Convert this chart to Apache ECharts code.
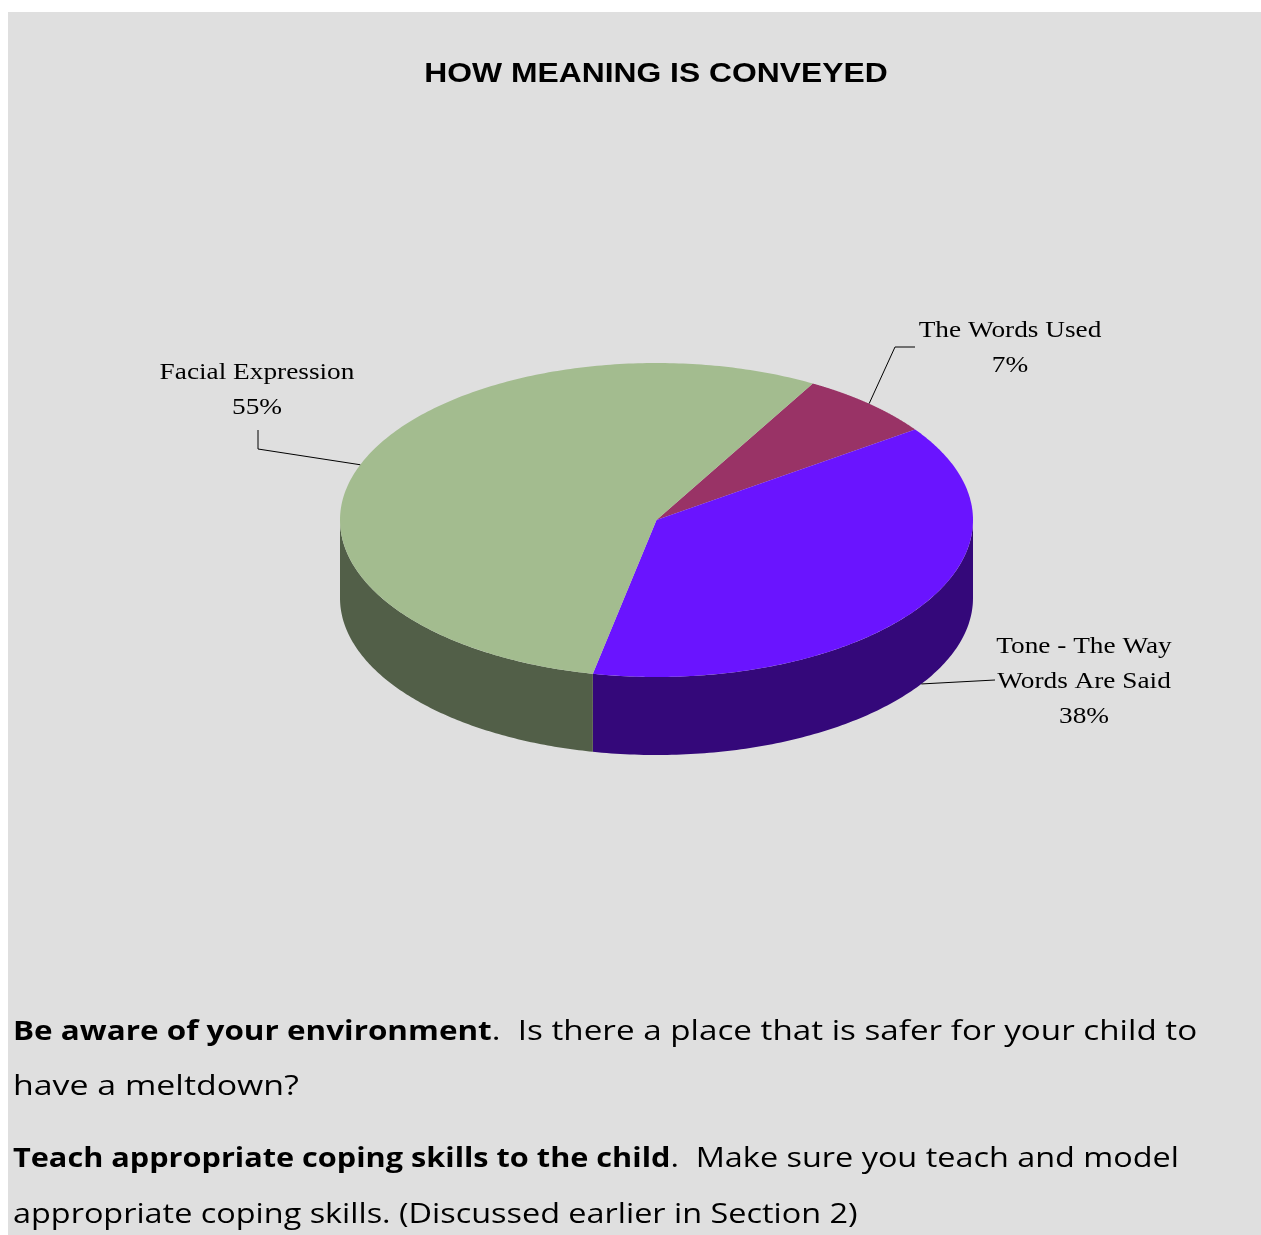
<!DOCTYPE html>
<html><head><meta charset="utf-8">
<script src="https://cdn.jsdelivr.net/npm/echarts@6/dist/echarts.min.js"></script>
<style>html,body{margin:0;padding:0;background:#fff}#c{width:1261px;height:1235px}</style>
</head><body><div id="c"></div>
<script>
// ---- data ----
const categories = ['The Words Used', 'Tone - The Way\nWords Are Said', 'Facial Expression'];
const values = [7, 38, 55];
const titleText = 'HOW MEANING IS CONVEYED';
const para1Bold = 'Be aware of your environment';
const para1Rest = '.  Is there a place that is safer for your child to';
const para1Line2 = 'have a meltdown?';
const para2Bold = 'Teach appropriate coping skills to the child';
const para2Rest = '.  Make sure you teach and model';
const para2Line2 = 'appropriate coping skills. (Discussed earlier in Section 2)';

// ---- styles / layout ----
const style = {
  top: ['#993366', '#6a14ff', '#a3bc8f'],
  side: ['#4c1933', '#34087a', '#525f48'],
  bg: '#dfdfdf'
};
const geo = { cx: 656.5, cy: 520, rx: 316.5, ry: 157, depth: 78, startDeg: -60.4 };
const labelScaleX = 1.137;
const labelLayout = [
  { x: 1010, y: 313, path: [[895, 347], [915, 347]] },
  { x: 1084, y: 629, path: [[995, 680]] },
  { x: 257, y: 355, path: [[258, 449], [258, 430]] }
];

const total = values.reduce((a, b) => a + b, 0);
function sliceAngles(i) {
  let a = geo.startDeg * Math.PI / 180;
  for (let k = 0; k < i; k++) a += values[k] / total * Math.PI * 2;
  return [a, a + values[i] / total * Math.PI * 2];
}
function pt(t, dy) { return [geo.cx + geo.rx * Math.cos(t), geo.cy + geo.ry * Math.sin(t) + (dy || 0)]; }

function renderSide(params, api) {
  const i = params.dataIndex;
  const [a0, a1] = sliceAngles(i);
  const groups = [];
  for (const off of [-2 * Math.PI, 0, 2 * Math.PI]) {
    const lo = Math.max(a0 + off, 0), hi = Math.min(a1 + off, Math.PI);
    if (hi > lo) {
      const pts = [];
      const n = 120;
      for (let s = 0; s <= n; s++) pts.push(pt(lo + (hi - lo) * s / n, 0));
      for (let s = n; s >= 0; s--) pts.push(pt(lo + (hi - lo) * s / n, geo.depth));
      groups.push({ type: 'polygon', shape: { points: pts }, style: { fill: style.side[i] } });
    }
  }
  return { type: 'group', children: groups };
}

function renderTop(params, api) {
  const i = params.dataIndex;
  const [a0, a1] = sliceAngles(i);
  const pts = [[geo.cx, geo.cy]];
  const n = 240;
  for (let s = 0; s <= n; s++) pts.push(pt(a0 + (a1 - a0) * s / n, 0));
  const mid = (a0 + a1) / 2;
  const start = pt(mid, Math.sin(mid) > 0 ? geo.depth : 0);
  const L = labelLayout[i];
  const pct = Math.round(values[i] / total * 100) + '%';
  return {
    type: 'group',
    children: [
      { type: 'polygon', shape: { points: pts }, style: { fill: style.top[i] } },
      { type: 'polyline', shape: { points: [start].concat(L.path) }, style: { stroke: '#000', lineWidth: 1, fill: null } },
      { type: 'text', x: L.x, y: L.y, scaleX: labelScaleX,
        style: { text: categories[i] + '\n' + pct, x: 0, y: 0, align: 'center', verticalAlign: 'top',
        font: '24px "Liberation Serif", "Times New Roman", serif', lineHeight: 35, fill: '#000' } }
    ]
  };
}

const bodyFont = '"Comic Sans MS", "Open Sans", sans-serif';
const richStyles = {
  b: { fontFamily: bodyFont, fontWeight: 'bold', fontSize: 26.5, fill: '#000' },
  n: { fontFamily: bodyFont, fontSize: 28, fill: '#000' }
};
function bodyLine(y, text, sx) {
  return { type: 'text', x: 13, y: y, scaleX: sx,
    style: { text: text, x: 0, y: 0, verticalAlign: 'middle', rich: richStyles } };
}
const chart = echarts.init(document.getElementById('c'), null, { renderer: 'canvas' });
chart.setOption({
  backgroundColor: '#ffffff',
  animation: false,
  graphic: [
    { type: 'rect', z: -10, shape: { x: 8, y: 12, width: 1253, height: 1223 }, style: { fill: style.bg } },
    { type: 'text', x: 656, y: 74, scaleX: labelScaleX,
      style: { text: titleText, x: 0, y: 0, align: 'center', verticalAlign: 'middle',
        font: 'bold 28px "Liberation Sans", Arial, sans-serif', fill: '#000' } },
    bodyLine(1032, '{b|' + para1Bold + '}{n|' + para1Rest + '}', 1.186),
    bodyLine(1087, '{n|' + para1Line2 + '}', 1.21),
    bodyLine(1159, '{b|' + para2Bold + '}{n|' + para2Rest + '}', 1.157),
    bodyLine(1215, '{n|' + para2Line2 + '}', 1.157)
  ],
  series: [
    { type: 'custom', coordinateSystem: 'none', renderItem: renderSide, data: values, z: 1, silent: true },
    { type: 'custom', coordinateSystem: 'none', renderItem: renderTop, data: values, z: 2, silent: true }
  ]
});
</script></body></html>
